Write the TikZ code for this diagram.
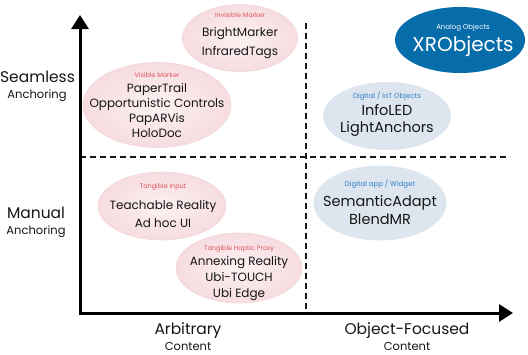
\documentclass[tikz,border=0pt]{standalone}
\usepackage{fontspec}
\setmainfont{Poppins}
\usetikzlibrary{arrows.meta,shapes.geometric}
\definecolor{mInk}{RGB}{22,22,22}
\definecolor{mPinkIn}{RGB}{252,241,242}
\definecolor{mPinkOut}{RGB}{246,220,224}
\definecolor{mPinkLine}{RGB}{242,214,218}
\definecolor{mRed}{RGB}{222,84,94}
\definecolor{mMist}{RGB}{221,229,239}
\definecolor{mSky}{RGB}{46,128,196}
\definecolor{mNavy}{RGB}{6,108,170}
\tikzset{
pinkblob/.style={ellipse,draw=mPinkLine,line width=.6pt,shading=radial,inner color=mPinkIn,outer color=mPinkOut,inner sep=0pt},
blueblob/.style={ellipse,fill=mMist,inner sep=0pt},
navyblob/.style={ellipse,fill=mNavy,inner sep=0pt},
pinktext/.style={align=center,text=mInk,font=\fontsize{12}{15.5}\selectfont},
bluetext/.style={align=center,text=mInk,font=\fontsize{14.5}{17}\selectfont},
axishead/.style={text=mInk,font=\fontsize{15.5}{18}\selectfont},
axissub/.style={text=mInk,font=\fontsize{11.5}{14}\selectfont},
axisline/.style={{Triangle[length=14pt,width=17pt]}-{Triangle[length=14pt,width=17pt]},line width=3pt,draw=black},
quadline/.style={dash pattern=on 6pt off 4pt,line width=1.1pt,draw=mInk}
}
\newcommand{\pinkcat}[1]{{\fontsize{6.5}{7}\selectfont\color{mRed}#1}}
\newcommand{\bluecat}[1]{{\fontsize{7}{8}\selectfont\color{mSky}#1}}

\begin{document}
\begin{tikzpicture}[x=1pt,y=-1pt]
\useasboundingbox (0,0) rectangle (528,354);
% quadrant grid
\coordinate (hl) at (80,157); \coordinate (hr) at (510,157);
\coordinate (vt) at (306,23); \coordinate (vb) at (306,313);
\draw[quadline] (hl)--(hr); \draw[quadline] (vt)--(vb);
% blobs
\node[pinkblob,minimum width=115pt,minimum height=67pt] (invis) at (240,38) {};
\node[pinkblob,minimum width=148pt,minimum height=85pt] (vis) at (157,105) {};
\node[navyblob,minimum width=130pt,minimum height=66pt] (analog) at (460,40) {};
\node[blueblob,minimum width=128pt,minimum height=68pt] (iot) at (387,116) {};
\node[pinkblob,minimum width=128pt,minimum height=68pt] (tang) at (162,206) {};
\node[pinkblob,minimum width=126pt,minimum height=70pt] (haptic) at (239,268) {};
\node[blueblob,minimum width=133pt,minimum height=75pt] (widget) at (380,203) {};
% blob texts
\node[pinktext] (invisTxt) at (240,35.5) {\pinkcat{Invisible Marker}\\[4pt] BrightMarker\\[3pt] InfraredTags};
\node[pinktext] (visTxt) at (157,105) {\pinkcat{Visible Marker}\\ PaperTrail\\[-1pt] Opportunistic Controls\\[-.5pt] PapARVis\\[0pt] HoloDoc};
\node[align=center,text=white] (analogTxt) at (463,40) {{\fontsize{7}{8}\selectfont Analog Objects}\\[4pt] {\fontsize{20}{24}\selectfont XRObjects}};
\node[bluetext] (iotTxt) at (387,114) {\bluecat{Digital / IoT Objects}\\[0pt] InfoLED\\[0pt] LightAnchors};
\node[pinktext] (tangTxt) at (163,205.5) {\pinkcat{Tangible Input}\\[5pt] Teachable Reality\\[2.5pt] Ad hoc UI};
\node[pinktext] (hapticTxt) at (239,273) {\pinkcat{Tangible Haptic Proxy}\\[0pt] Annexing Reality\\[.5pt] Ubi-TOUCH\\[.5pt] Ubi Edge};
\node[bluetext] (widgetTxt) at (380,202.5) {\bluecat{Digital app / Widget}\\[3pt] SemanticAdapt\\[1pt] BlendMR};
% axes
\coordinate (origin) at (80,313);
\coordinate (ytip) at (80,15);
\coordinate (xtip) at (513,313);
\draw[axisline] (ytip)--(origin)--(xtip);
\node[axishead] (seam) at (37.5,77) {Seamless};
\node[axissub] (seamSub) at (37,96) {Anchoring};
\node[axishead] (manual) at (36,213) {Manual};
\node[axissub] (manualSub) at (36,232) {Anchoring};
\node[axishead] (arb) at (188,331) {Arbitrary};
\node[axissub] (arbSub) at (188,346.5) {Content};
\node[axishead] (objf) at (407,331) {Object-Focused};
\node[axissub] (objfSub) at (407,346.5) {Content};
\end{tikzpicture}
\end{document}
